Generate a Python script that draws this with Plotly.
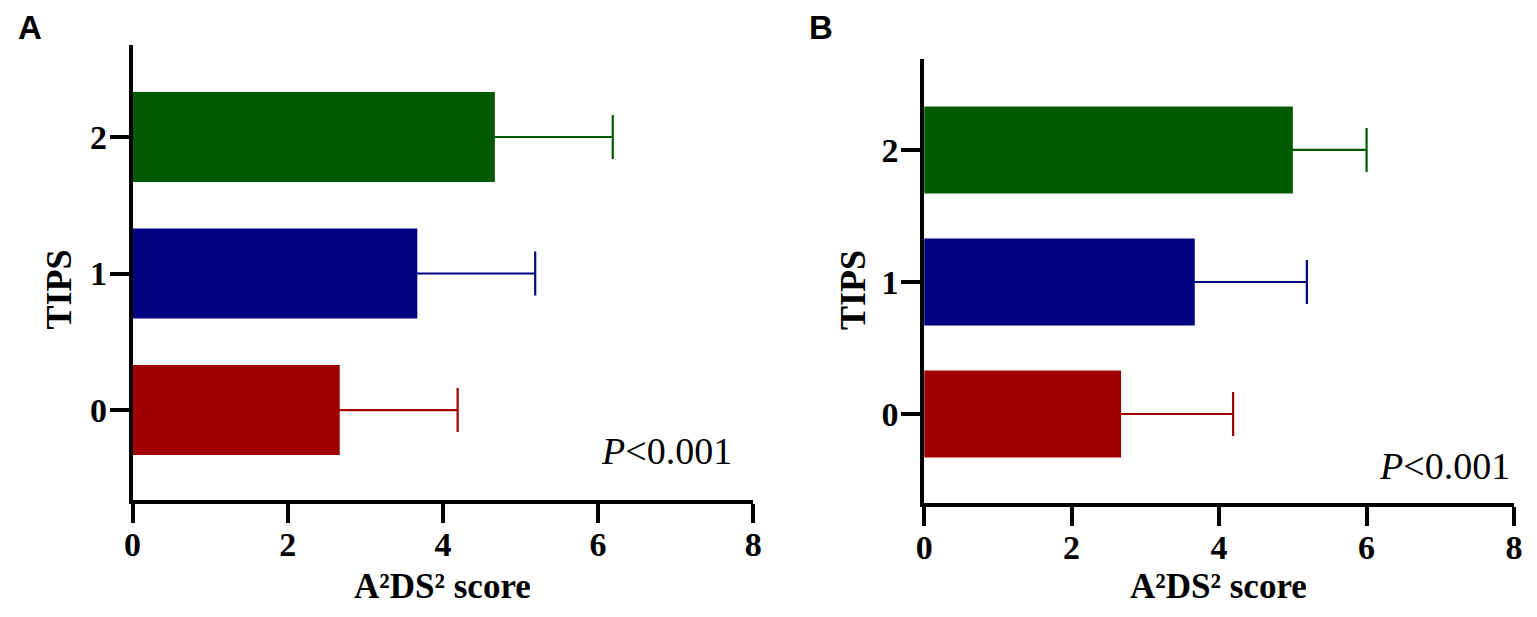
import plotly.graph_objects as go

# TIPS groups and A2DS2 score (mean, SD) for the two panels
tips = [0, 1, 2]
bar_colors = ['#a00000', '#000080', '#005a00']

score_a = [2.67, 3.67, 4.67]
sd_a = [1.52, 1.52, 1.52]

score_b = [2.67, 3.67, 5.0]
sd_b = [1.52, 1.52, 1.0]

x_ticks = [0, 2, 4, 6, 8]
x_title = 'A²DS² score'
p_text = '<i>P</i>&lt;0.001'

serif = 'Liberation Serif'
W, H = 1521, 601   # page body keeps an 8px margin


def px(x):
    return (x - 8) / W


def py(y):
    return 1 - (y - 8) / H


fig = go.Figure()

# one trace per bar so each error bar takes its bar colour
# (left half of the symmetric error bar is hidden inside the bar)
for panel, scores, sds in [('', score_a, sd_a), ('2', score_b, sd_b)]:
    for t, s, e, c in zip(tips, scores, sds, bar_colors):
        fig.add_trace(go.Bar(
            x=[s], y=[t], orientation='h', width=0.66,
            marker=dict(color=c, line=dict(width=0)),
            error_x=dict(type='data', array=[e], color=c, thickness=2.2, width=22),
            xaxis='x' + panel, yaxis='y' + panel, showlegend=False))

axis_style = dict(showgrid=False, zeroline=False, showline=True, linecolor='black',
                  linewidth=3.5, ticks='outside', ticklen=19, tickwidth=3.5,
                  tickcolor='black', tickfont=dict(family=serif, size=34, color='black', weight='bold'))

fig.update_layout(
    width=W, height=H,
    margin=dict(l=0, r=0, t=0, b=0),
    plot_bgcolor='white', paper_bgcolor='white',
    barmode='overlay',
    xaxis=dict(domain=[px(125), px(753)], range=[0, 8], tickvals=x_ticks, anchor='y',
               ticklabelstandoff=-8, **axis_style),
    yaxis=dict(domain=[py(500), py(45)], range=[-0.659, 2.674], tickvals=tips, anchor='x',
               ticklabelstandoff=-4, **axis_style),
    xaxis2=dict(domain=[px(926), px(1523)], range=[0, 8], tickvals=x_ticks, anchor='y2',
                ticklabelstandoff=-8, **axis_style),
    yaxis2=dict(domain=[py(503), py(59)], range=[-0.674, 2.689], tickvals=tips, anchor='x2',
                ticklabelstandoff=-4, **axis_style),
)

ann = []
for xc, lab, lx, tx in [(439, 'A', 8, 50), (1224, 'B', 808, 854)]:
    ann.append(dict(x=px(xc), y=py(586), xref='paper', yref='paper',
                    text=x_title, showarrow=False,
                    font=dict(family=serif, size=35, color='black', weight='bold'),
                    xanchor='center', yanchor='middle'))
    ann.append(dict(x=px(lx), y=py(28), xref='paper', yref='paper', text=lab, showarrow=False,
                    font=dict(family='Liberation Sans', size=33, color='black', weight='bold'),
                    xanchor='left', yanchor='middle', borderpad=0))
    ann.append(dict(x=px(tx), y=py(290), xref='paper', yref='paper', text='TIPS', textangle=-90,
                    showarrow=False, font=dict(family=serif, size=36, color='black', weight='bold'),
                    xanchor='center', yanchor='middle'))

ann.append(dict(x=7.75, y=-0.30, xref='x', yref='y', text=p_text, showarrow=False,
                font=dict(family=serif, size=38, color='black'), xanchor='right', yanchor='middle'))
ann.append(dict(x=7.97, y=-0.39, xref='x2', yref='y2', text=p_text, showarrow=False,
                font=dict(family=serif, size=38, color='black'), xanchor='right', yanchor='middle'))
fig.update_layout(annotations=ann)

fig.write_html('out.html')
